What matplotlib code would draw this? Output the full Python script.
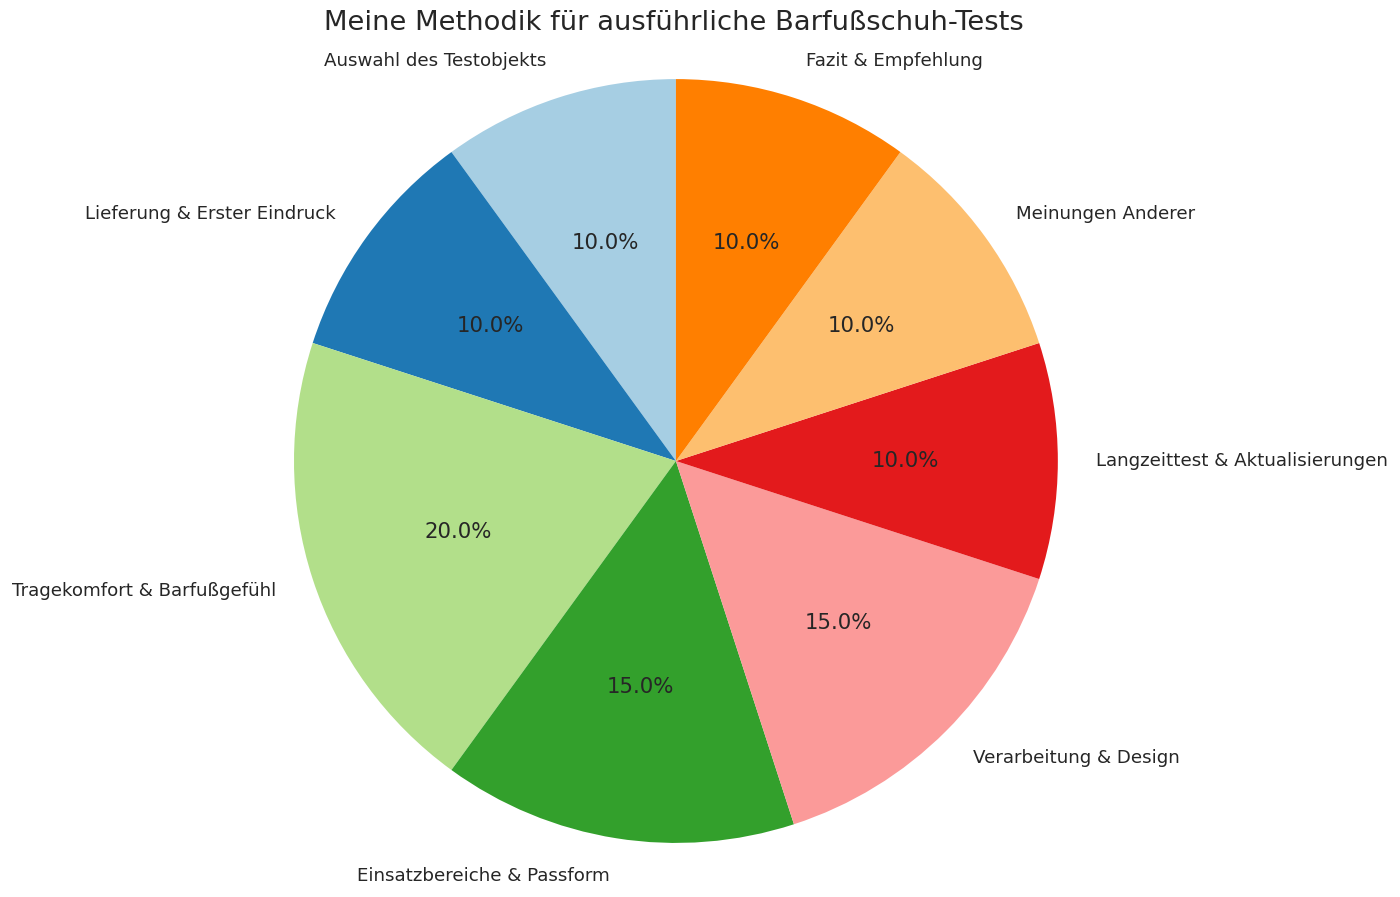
import numpy as np
import matplotlib.pyplot as plt

# data
steps = ['Auswahl des Testobjekts', 'Lieferung & Erster Eindruck',
         'Tragekomfort & Barfußgefühl', 'Einsatzbereiche & Passform',
         'Verarbeitung & Design', 'Langzeittest & Aktualisierungen',
         'Meinungen Anderer', 'Fazit & Empfehlung']
shares = [10, 10, 20, 15, 15, 10, 10, 10]

colors = plt.cm.Paired(np.arange(len(steps)))

fig = plt.figure(figsize=(14, 8.97), dpi=100)
# square axes so the pie sits where it does in the original
ax = fig.add_axes([0.1418, -0.0463, 0.682, 1.0647])

wedges, texts, autotexts = ax.pie(shares, labels=steps, colors=colors,
                                  autopct='%1.1f%%', startangle=90,
                                  textprops={'fontsize': 13.15, 'color': '#262626'})
for t in autotexts:
    t.set_fontsize(15.3)

ax.set_xlim(-1.25, 1.25)
ax.set_ylim(-1.25, 1.25)
ax.set_aspect('equal')

fig.text(0.481, 0.974, 'Meine Methodik für ausführliche Barfußschuh-Tests',
         ha='center', va='center', fontsize=19.7, color='#262626')

fig.savefig('out.png', dpi=100)
